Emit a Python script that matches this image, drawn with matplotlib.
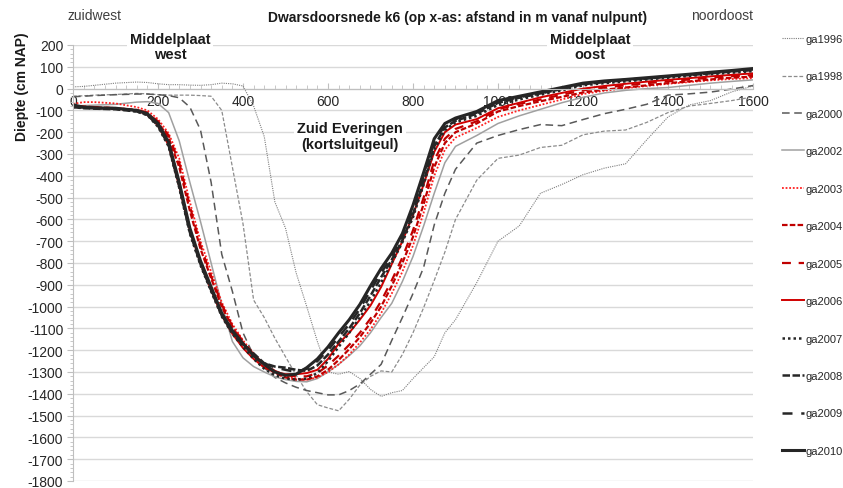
import matplotlib
matplotlib.use("Agg")
import matplotlib.pyplot as plt
from matplotlib.ticker import MultipleLocator

plt.rcParams["font.family"] = ["Liberation Sans", "DejaVu Sans"]
plt.rcParams["axes.unicode_minus"] = False

# afstand vanaf nulpunt (m)
afstand = [0, 25, 50, 100, 150, 175, 200, 225, 250, 275, 300, 325, 350, 375, 400,
           425, 450, 475, 500, 525, 550, 575, 600, 625, 650, 675, 700, 725, 750,
           775, 800, 825, 850, 875, 900, 950, 1000, 1050, 1100, 1150, 1200, 1250,
           1300, 1350, 1400, 1450, 1500, 1550, 1600]

# diepte (cm NAP) per jaar
ga1996 = [8, 10, 15, 25, 30, 28, 22, 18, 18, 16, 15, 18, 25, 22, 12,
          -80, -220, -520, -640, -845, -1000, -1160, -1300, -1310, -1298, -1330, -1380, -1412, -1395,
          -1385, -1330, -1280, -1230, -1120, -1060, -890, -700, -630, -480, -440, -395, -365,
          -345, -235, -130, -75, -55, -15, 12]
ga1998 = [-35, -33, -30, -27, -22, -24, -28, -30, -30, -30, -32, -35, -100, -360, -620,
          -970, -1050, -1145, -1230, -1315, -1390, -1450, -1465, -1478, -1425, -1360, -1320, -1295, -1300,
          -1220, -1120, -1005, -880, -750, -600, -420, -320, -305, -270, -260, -212, -195,
          -190, -155, -110, -80, -68, -55, -38]
ga2000 = [-37, -35, -32, -28, -25, -25, -28, -32, -42, -85, -190, -430, -760, -930, -1120,
          -1225, -1280, -1325, -1350, -1370, -1385, -1395, -1405, -1405, -1385, -1355, -1310, -1265, -1155,
          -1050, -940, -820, -625, -480, -370, -250, -215, -188, -165, -170, -142, -115,
          -95, -72, -30, -24, -16, -2, 14]
ga2002 = [-80, -78, -76, -72, -62, -60, -68, -110, -240, -430, -610, -800, -990, -1160, -1235,
          -1275, -1300, -1322, -1335, -1343, -1345, -1330, -1300, -1265, -1225, -1180, -1120, -1050, -985,
          -885, -770, -630, -480, -340, -265, -215, -160, -125, -95, -65, -40, -20,
          -8, 0, 5, 15, 25, 33, 40]
ga2003 = [-70, -62, -62, -68, -85, -100, -140, -205, -320, -520, -700, -840, -980, -1080, -1155,
          -1215, -1265, -1300, -1320, -1330, -1335, -1325, -1300, -1265, -1220, -1165, -1105, -1030, -940,
          -840, -720, -570, -400, -280, -225, -180, -130, -100, -75, -50, -25, -10,
          2, 12, 22, 30, 38, 44, 48]
ga2004 = [-78, -82, -85, -90, -98, -112, -155, -225, -360, -560, -735, -870, -1000, -1095, -1165,
          -1225, -1270, -1305, -1325, -1335, -1335, -1320, -1290, -1245, -1195, -1140, -1075, -1000, -905,
          -800, -680, -530, -360, -250, -200, -160, -105, -80, -58, -38, -18, -5,
          5, 15, 25, 33, 42, 50, 55]
ga2005 = [-80, -85, -85, -90, -98, -110, -150, -215, -340, -540, -720, -860, -990, -1090, -1160,
          -1220, -1265, -1295, -1315, -1320, -1320, -1305, -1270, -1225, -1175, -1120, -1055, -975, -880,
          -775, -650, -500, -330, -230, -185, -150, -95, -70, -50, -28, -8, 5,
          15, 25, 33, 42, 50, 57, 62]
ga2006 = [-80, -85, -88, -92, -100, -120, -170, -260, -450, -650, -800, -925, -1040, -1125, -1190,
          -1240, -1280, -1300, -1310, -1310, -1305, -1290, -1240, -1170, -1120, -1060, -995, -910, -805,
          -700, -580, -440, -290, -200, -165, -140, -90, -65, -40, -20, 0, 12,
          22, 32, 40, 48, 56, 63, 70]
ga2007 = [-85, -88, -90, -92, -105, -122, -175, -265, -455, -665, -810, -930, -1045, -1125, -1185,
          -1240, -1285, -1315, -1330, -1335, -1330, -1305, -1250, -1185, -1120, -1050, -975, -890, -800,
          -705, -590, -440, -280, -190, -155, -125, -75, -50, -28, -8, 15, 25,
          33, 42, 50, 58, 66, 73, 80]
ga2008 = [-85, -90, -92, -95, -105, -120, -170, -260, -450, -660, -805, -925, -1040, -1115, -1170,
          -1215, -1260, -1275, -1280, -1290, -1295, -1270, -1220, -1160, -1100, -1030, -950, -865, -785,
          -695, -575, -425, -265, -178, -148, -115, -65, -42, -22, -2, 20, 30,
          38, 46, 54, 62, 70, 78, 85]
ga2009 = [-80, -88, -90, -92, -100, -118, -165, -255, -440, -650, -800, -920, -1040, -1120, -1175,
          -1225, -1260, -1280, -1290, -1300, -1285, -1250, -1200, -1140, -1080, -1010, -925, -845, -772,
          -680, -555, -400, -245, -168, -140, -110, -60, -40, -20, 0, 22, 32,
          40, 48, 56, 64, 72, 80, 88]
ga2010 = [-75, -85, -88, -90, -100, -115, -160, -245, -430, -640, -790, -910, -1030, -1110, -1170,
          -1225, -1265, -1300, -1315, -1310, -1280, -1240, -1185, -1120, -1060, -990, -905, -825, -755,
          -665, -535, -385, -230, -160, -135, -105, -55, -35, -15, 5, 25, 35,
          42, 50, 58, 66, 75, 83, 92]

namen = ["ga1996", "ga1998", "ga2000", "ga2002", "ga2003", "ga2004",
         "ga2005", "ga2006", "ga2007", "ga2008", "ga2009", "ga2010"]
reeksen = [ga1996, ga1998, ga2000, ga2002, ga2003, ga2004,
           ga2005, ga2006, ga2007, ga2008, ga2009, ga2010]

# lijnstijl per reeks: kleur, dikte, streepjes
stijlen = {
    "ga1996": ("#7f7f7f", 0.8, (0, (1, 1))),
    "ga1998": ("#8c8c8c", 0.9, (0, (3, 1.5))),
    "ga2000": ("#595959", 1.1, (0, (5, 3))),
    "ga2002": ("#a0a0a0", 1.1, "-"),
    "ga2003": ("#ff2020", 1.3, (0, (1, 1))),
    "ga2004": ("#c00000", 1.6, (0, (2.5, 1))),
    "ga2005": ("#c00000", 1.6, (0, (4, 3.5))),
    "ga2006": ("#d00000", 1.4, "-"),
    "ga2007": ("#262626", 1.8, (0, (1, 1.2))),
    "ga2008": ("#262626", 1.8, (0, (3, 1))),
    "ga2009": ("#262626", 1.8, (0, (4, 3.5))),
    "ga2010": ("#262626", 2.2, "-"),
}

fig = plt.figure(figsize=(8.43, 4.89), dpi=100)
ax = fig.add_axes([73 / 843, 1 - 482 / 489, 680 / 843, 436 / 489])

for naam, y in zip(namen, reeksen):
    kleur, lw, ls = stijlen[naam]
    ax.plot(afstand, y, color=kleur, lw=lw, linestyle=ls, label=naam)

ax.set_xlim(0, 1600)
ax.set_ylim(-1800, 200)
ax.xaxis.set_major_locator(MultipleLocator(200))
ax.xaxis.set_minor_locator(MultipleLocator(25))
ax.yaxis.set_major_locator(MultipleLocator(100))
ax.yaxis.set_minor_locator(MultipleLocator(20))
ax.grid(axis="y", color="#d9d9d9", lw=1)
ax.set_axisbelow(True)

for s in ["top", "right"]:
    ax.spines[s].set_visible(False)
ax.spines["bottom"].set_position(("data", 0))
ax.spines["bottom"].set_color("#bfbfbf")
ax.spines["left"].set_color("#bfbfbf")
ax.tick_params(axis="x", which="both", direction="in", colors="#bfbfbf",
               labelcolor="#262626", labelsize=10, pad=4)
ax.tick_params(axis="x", which="major", length=4)
ax.tick_params(axis="x", which="minor", length=3)
ax.tick_params(axis="y", which="both", direction="out", colors="#bfbfbf",
               labelcolor="#262626", labelsize=10, pad=3)
ax.tick_params(axis="y", which="major", length=4)
ax.tick_params(axis="y", which="minor", length=2.5)

wit = dict(facecolor="white", edgecolor="none", pad=2)
ax.text(228, 193, "Middelplaat\nwest", ha="center", va="center",
        fontsize=10.5, fontweight="bold", color="#1a1a1a", bbox=wit, linespacing=1.15)
ax.text(1216, 193, "Middelplaat\noost", ha="center", va="center",
        fontsize=10.5, fontweight="bold", color="#1a1a1a", bbox=wit, linespacing=1.15)
ax.text(652, -216, "Zuid Everingen\n(kortsluitgeul)", ha="center", va="center",
        fontsize=10.5, fontweight="bold", color="#1a1a1a", bbox=wit, linespacing=1.15)

fig.text(458 / 843, 1 - 18 / 489, "Dwarsdoorsnede k6 (op x-as: afstand in m vanaf nulpunt)",
         ha="center", va="center", fontsize=10, fontweight="bold", color="#1a1a1a")
fig.text(68 / 843, 1 - 16 / 489, "zuidwest", ha="left", va="center",
         fontsize=10, color="#404040")
fig.text(753 / 843, 1 - 16 / 489, "noordoost", ha="right", va="center",
         fontsize=10, color="#404040")
fig.text(22 / 843, 1 - 87 / 489, "Diepte (cm NAP)", rotation=90, ha="center", va="center",
         fontsize=10, fontweight="bold", color="#1a1a1a")

fig.legend(loc="upper left", bbox_to_anchor=(782 / 843, 1 - 35 / 489), frameon=False,
           fontsize=8, handlelength=2.0, handletextpad=0.15, labelspacing=2.47,
           borderpad=0, borderaxespad=0, labelcolor="#262626")

fig.savefig("out.png", dpi=100)
